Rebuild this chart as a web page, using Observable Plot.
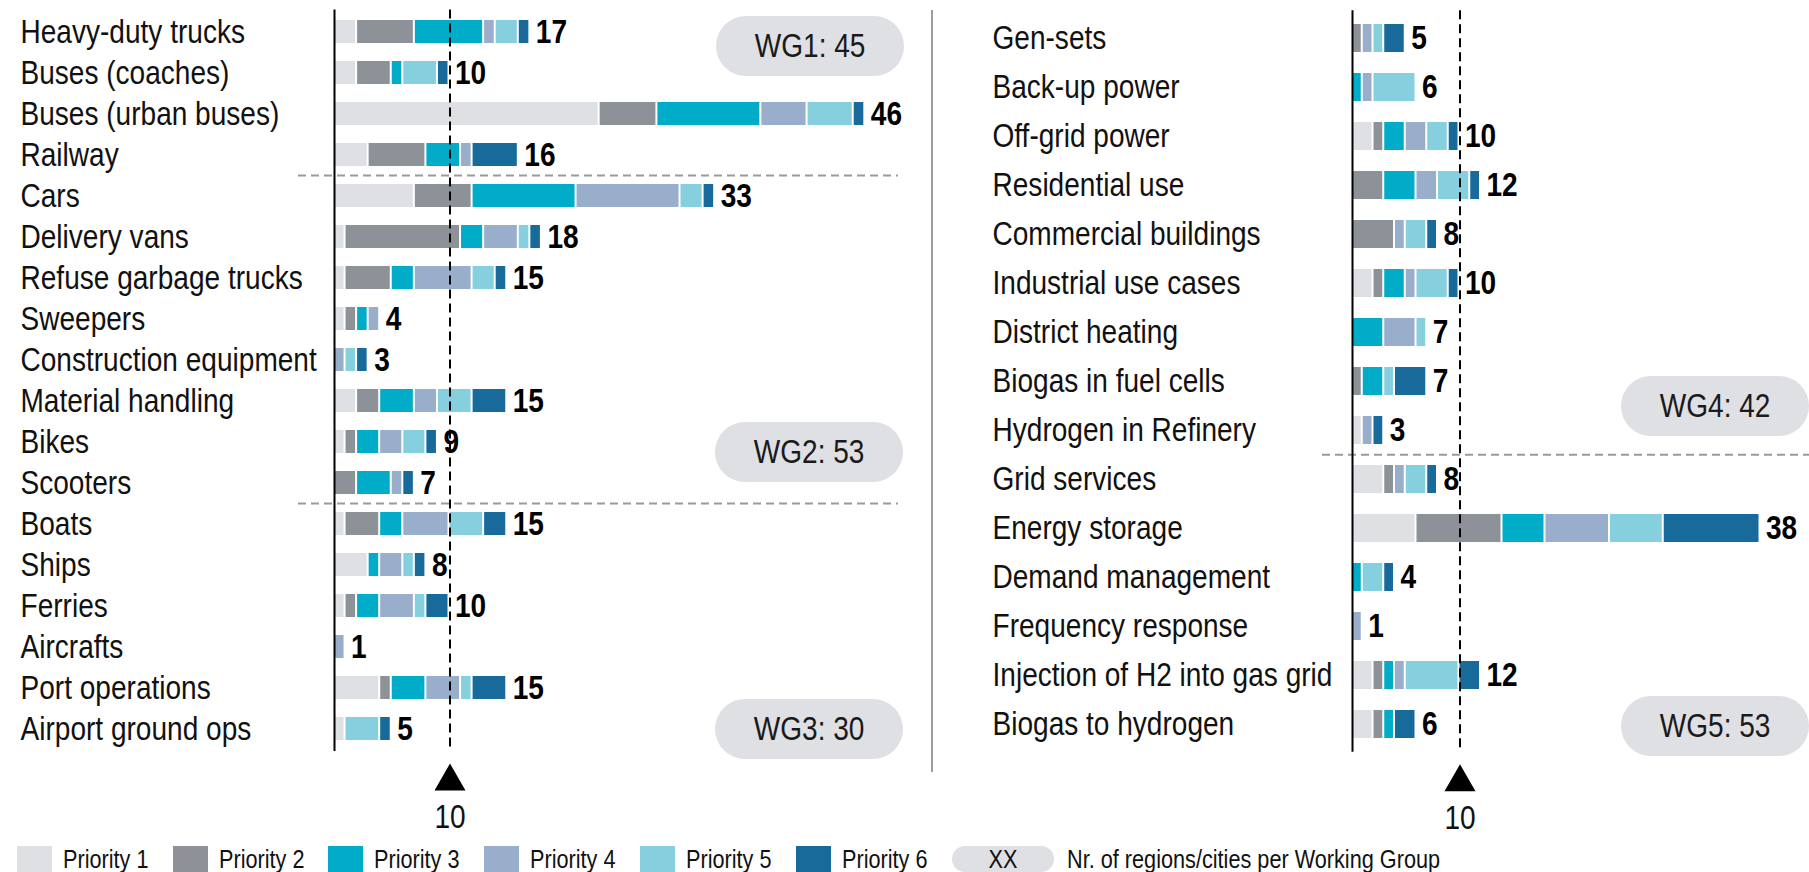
<!DOCTYPE html>
<html><head><meta charset="utf-8">
<script src="https://cdn.jsdelivr.net/npm/d3@7"></script>
<script src="https://cdn.jsdelivr.net/npm/@observablehq/plot@0.6"></script>
<style>
body{margin:0;background:#fff;}
#wrap{position:relative;width:1809px;height:872px;overflow:hidden;font-family:"Liberation Sans",Arial,sans-serif;color:#111;}
.panel{position:absolute;top:0;}
.pill{position:absolute;background:#dfe0e4;border-radius:30px;display:flex;align-items:center;justify-content:center;font-size:33px;color:#1a1a1a;width:188px;height:60px;}
.pill span{display:inline-block;transform:scaleX(0.85);transform-origin:center center;white-space:nowrap;}
.divider{position:absolute;left:931px;top:10px;width:1.5px;height:762px;background:#9d9d9d;}
.legend{position:absolute;left:0;top:846px;height:26px;width:1809px;font-size:25.5px;line-height:26px;}
.li{position:absolute;top:0;height:26px;display:flex;align-items:center;white-space:nowrap;}
.sw{display:inline-block;width:35px;height:26px;margin-right:11px;flex:none;}
.lt{display:inline-block;transform:scaleX(0.85);transform-origin:left center;line-height:26px;}
.xx{display:inline-flex;align-items:center;justify-content:center;width:102px;height:26px;border-radius:13px;background:#dfe0e4;margin-right:13px;flex:none;}
.xx span{display:inline-block;transform:scaleX(0.85);}
</style></head><body><div id="wrap"></div>
<script>
const FONT = '"Liberation Sans",Arial,sans-serif';
const CONDENSE = 0.85;
const priorities = ["Priority 1","Priority 2","Priority 3","Priority 4","Priority 5","Priority 6"];
const priorityColors = ["#dfe0e4","#8d9198","#00acc8","#98aeca","#86cfdf","#176a9a"];

// Left panel (WG1-WG3)
const leftNames = ["Heavy-duty trucks","Buses (coaches)","Buses (urban buses)","Railway","Cars","Delivery vans","Refuse garbage trucks","Sweepers","Construction equipment","Material handling","Bikes","Scooters","Boats","Ships","Ferries","Aircrafts","Port operations","Airport ground ops"];
const leftP1 = [2,2,23,3,7,1,1,1,0,2,1,0,1,3,1,0,4,1];
const leftP2 = [5,3,5,5,5,10,4,1,0,2,1,2,3,0,1,0,1,0];
const leftP3 = [6,1,9,3,9,2,2,1,0,3,2,3,2,1,2,0,3,0];
const leftP4 = [1,0,4,1,9,3,5,1,1,2,2,1,4,2,3,1,3,0];
const leftP5 = [2,3,4,0,2,1,2,0,1,3,2,0,3,1,1,0,1,3];
const leftP6 = [1,1,1,4,1,1,1,0,1,3,1,1,2,1,2,0,3,1];
const leftSeparators = ["Cars","Boats"];

// Right panel (WG4-WG5)
const rightNames = ["Gen-sets","Back-up power","Off-grid power","Residential use","Commercial buildings","Industrial use cases","District heating","Biogas in fuel cells","Hydrogen in Refinery","Grid services","Energy storage","Demand management","Frequency response","Injection of H2 into gas grid","Biogas to hydrogen"];
const rightP1 = [0,0,2,0,0,2,0,0,1,3,6,0,0,2,2];
const rightP2 = [1,0,1,3,4,1,0,1,0,1,8,0,0,1,1];
const rightP3 = [0,1,2,3,0,2,3,2,0,0,4,1,0,1,1];
const rightP4 = [1,1,2,2,1,1,3,0,1,1,6,0,1,1,0];
const rightP5 = [1,4,2,3,2,3,1,1,0,2,5,2,0,5,0];
const rightP6 = [2,0,1,1,1,1,0,3,1,1,9,1,0,2,2];
const rightSeparators = ["Grid services"];

const referenceTicks = [10];

// Working-group badges
const wgNames = ["WG1","WG2","WG3","WG4","WG5"];
const wgCounts = [45,53,30,42,53];
const legendNote = "Nr. of regions/cities per Working Group";

const H = 845;

// narrow the glyphs (the original uses a condensed typeface) without moving anchors
function condense(svg, k) {
  svg.querySelectorAll("text").forEach(t => {
    const len = t.getComputedTextLength();
    if (len > 0) {
      t.setAttribute("textLength", (len * k).toFixed(2));
      t.setAttribute("lengthAdjust", "spacingAndGlyphs");
    }
  });
}

function panel(names, series, seps, o) {
  const data = [];
  names.forEach((n, i) => series.forEach((s, j) => {
    if (s[i] > 0) data.push({name: n, priority: priorities[j], value: s[i]});
  }));
  const totals = names.map((n, i) => ({name: n, total: d3.sum(series, s => s[i])}));
  const step = (o.bottom - o.top) / names.length;
  return Plot.plot({
    width: o.width, height: H,
    marginLeft: o.ml, marginRight: o.mr, marginTop: o.top, marginBottom: H - o.bottom,
    x: {domain: [0, o.xmax], axis: null},
    y: {type: "band", domain: names, paddingInner: o.pad, paddingOuter: o.pad / 2, axis: null},
    color: {domain: priorities, range: priorityColors},
    style: {fontFamily: FONT, fontSize: "33px", color: "#111", background: "transparent", overflow: "visible"},
    marks: [
      Plot.ruleY(seps, {y: d => d, dy: -step / 2, stroke: "#9a9a9a", strokeWidth: 2, strokeDasharray: "8,5", insetLeft: o.sepL, insetRight: o.sepR}),
      Plot.barX(data, Plot.stackX({x: "value", y: "name", fill: "priority", insetRight: 2})),
      Plot.text(totals, {x: "total", y: "name", text: d => String(d.total), textAnchor: "start", dx: 5, fontWeight: "bold", fill: "#000"}),
      Plot.text(names, {y: d => d, text: d => d, frameAnchor: "left", textAnchor: "start", dx: o.labelX - o.ml, fill: "#111"}),
      Plot.ruleX([0], {stroke: "#000", strokeWidth: 2}),
      Plot.ruleX(referenceTicks, {x: d => d, stroke: "#000", strokeWidth: 2, strokeDasharray: "9,5"}),
      Plot.dot(referenceTicks, {x: d => d, frameAnchor: "bottom", symbol: "triangle", r: 11.5, fill: "#000", stroke: null, dy: 30}),
      Plot.text(referenceTicks, {x: d => d, text: d => String(d), frameAnchor: "bottom", lineAnchor: "middle", dy: 66, fill: "#111"})
    ]
  });
}

const wrap = document.getElementById("wrap");

const leftDiv = document.createElement("div");
leftDiv.className = "panel"; leftDiv.style.left = "0px";
const leftSvg = panel(leftNames, [leftP1,leftP2,leftP3,leftP4,leftP5,leftP6], leftSeparators,
  {width: 931, ml: 334, mr: 19.5, xmax: 50, top: 9.6, bottom: 751, pad: 0.44, labelX: 20, sepL: -36, sepR: 13.5});
leftDiv.appendChild(leftSvg);
wrap.appendChild(leftDiv);

const rightDiv = document.createElement("div");
rightDiv.className = "panel"; rightDiv.style.left = "932px";
const rightSvg = panel(rightNames, [rightP1,rightP2,rightP3,rightP4,rightP5,rightP6], rightSeparators,
  {width: 877, ml: 420, mr: 27, xmax: 40, top: 10.3, bottom: 751.7, pad: 0.43, labelX: 60, sepL: -30, sepR: -27});
rightDiv.appendChild(rightSvg);
wrap.appendChild(rightDiv);

condense(leftSvg, CONDENSE);
condense(rightSvg, CONDENSE);

const divider = document.createElement("div");
divider.className = "divider";
wrap.appendChild(divider);

// badges
const pillPos = [[716,16],[715,422],[715,699],[1621,376],[1621,696]];
wgNames.forEach((w, i) => {
  const p = document.createElement("div");
  p.className = "pill";
  p.style.left = pillPos[i][0] + "px";
  p.style.top = pillPos[i][1] + "px";
  const s = document.createElement("span");
  s.textContent = `${w}: ${wgCounts[i]}`;
  p.appendChild(s);
  wrap.appendChild(p);
});

// legend
const legend = document.createElement("div");
legend.className = "legend";
priorities.forEach((p, i) => {
  const it = document.createElement("div");
  it.className = "li";
  it.style.left = (17 + 155.7 * i) + "px";
  it.innerHTML = `<span class="sw" style="background:${priorityColors[i]}"></span><span class="lt">${p}</span>`;
  legend.appendChild(it);
});
const xx = document.createElement("div");
xx.className = "li";
xx.style.left = "952px";
xx.innerHTML = `<span class="xx"><span>XX</span></span><span class="lt">${legendNote}</span>`;
legend.appendChild(xx);
wrap.appendChild(legend);
</script>
</body></html>
